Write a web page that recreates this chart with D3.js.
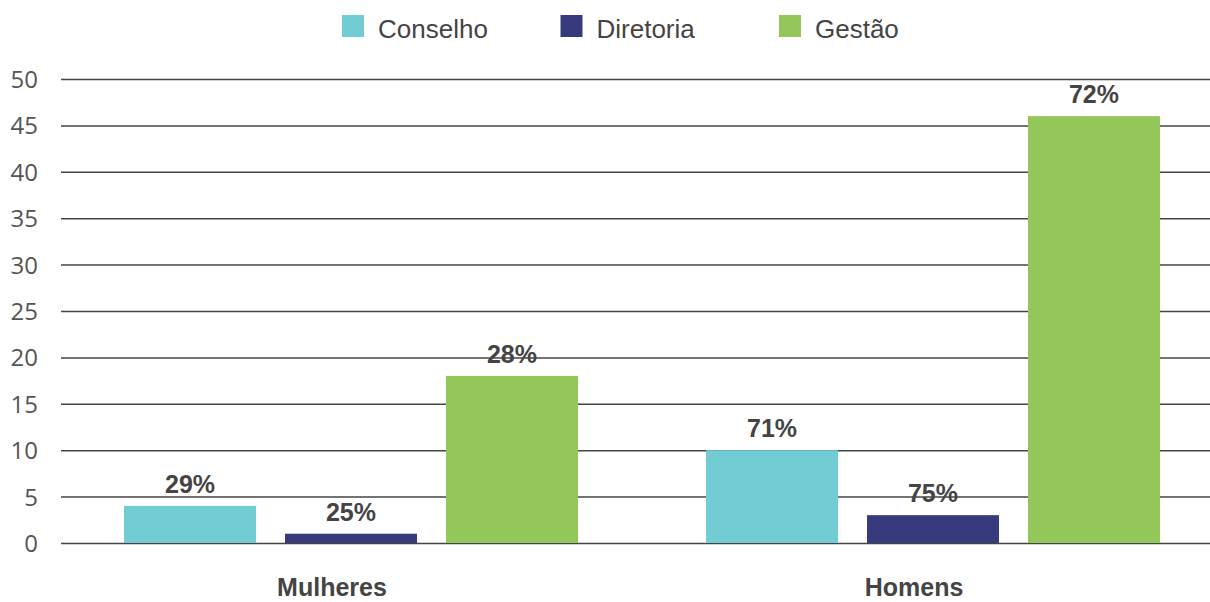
<!DOCTYPE html>
<html>
<head>
<meta charset="utf-8">
<script src="https://cdn.jsdelivr.net/npm/d3@7"></script>
<style>
  html, body { margin: 0; padding: 0; background: #fff; }
  svg { display: block; }
</style>
</head>
<body>
<svg id="chart" width="1210" height="602"></svg>
<script>
const categories = ["Mulheres", "Homens"];
const series = ["Conselho", "Diretoria", "Gestão"];
const conselhoValues = [4, 10];
const diretoriaValues = [1, 3];
const gestaoValues = [18, 46];
const conselhoLabels = ["29%", "71%"];
const diretoriaLabels = ["25%", "75%"];
const gestaoLabels = ["28%", "72%"];
const yTicks = [0, 5, 10, 15, 20, 25, 30, 35, 40, 45, 50];

const colors = { "Conselho": "#72CCD3", "Diretoria": "#383A7E", "Gestão": "#93C759" };
const valuesBySeries = { "Conselho": conselhoValues, "Diretoria": diretoriaValues, "Gestão": gestaoValues };
const labelsBySeries = { "Conselho": conselhoLabels, "Diretoria": diretoriaLabels, "Gestão": gestaoLabels };

const svg = d3.select("#chart");
const gridLeft = 61, gridRight = 1210;

const y = d3.scaleLinear().domain([0, 50]).range([543, 79]);
const x0 = d3.scaleBand().domain(categories).range([60, 1224]).paddingInner(0.22).paddingOuter(0.11);
const x1 = d3.scaleBand().domain(series).range([0, x0.bandwidth()]).paddingInner(0.18).paddingOuter(0);

// Grid lines + tick labels
const yAxis = d3.axisLeft(y).tickValues(yTicks).tickSize(-(gridRight - gridLeft)).tickPadding(23);
const gAxis = svg.append("g").attr("transform", `translate(${gridLeft},0)`).call(yAxis);
gAxis.select(".domain").remove();
gAxis.selectAll(".tick line").attr("stroke", "#444").attr("stroke-width", 1.5);
gAxis.selectAll(".tick text")
  .attr("fill", "#555")
  .style("font-family", "'Open Sans', sans-serif")
  .style("font-size", "24px")
  .attr("dy", "0.35em");

// Bars
const rows = [];
categories.forEach((c, i) => {
  series.forEach(s => rows.push({ cat: c, ser: s, value: valuesBySeries[s][i], label: labelsBySeries[s][i] }));
});

svg.append("g").selectAll("rect").data(rows).join("rect")
  .attr("x", d => x0(d.cat) + x1(d.ser))
  .attr("y", d => y(d.value))
  .attr("width", x1.bandwidth())
  .attr("height", d => y(0) - y(d.value))
  .attr("fill", d => colors[d.ser]);

// Value labels
svg.append("g").selectAll("text").data(rows).join("text")
  .attr("x", d => x0(d.cat) + x1(d.ser) + x1.bandwidth() / 2)
  .attr("y", d => y(d.value) - 13)
  .attr("text-anchor", "middle")
  .attr("fill", "#444")
  .style("font-family", "'Liberation Sans', Arial, sans-serif")
  .style("font-weight", "bold")
  .style("font-size", "25px")
  .text(d => d.label);

// Category labels
svg.append("g").selectAll("text").data(categories).join("text")
  .attr("x", d => x0(d) + x0.bandwidth() / 2 - 19)
  .attr("y", 596)
  .attr("text-anchor", "middle")
  .attr("fill", "#444")
  .style("font-family", "'Liberation Sans', Arial, sans-serif")
  .style("font-weight", "bold")
  .style("font-size", "25px")
  .text(d => d);

// Legend
const legendX = d3.scalePoint().domain(series).range([342, 779]);
const lg = svg.append("g").selectAll("g").data(series).join("g")
  .attr("transform", d => `translate(${legendX(d)},15)`);
lg.append("rect").attr("width", 22).attr("height", 22).attr("fill", d => colors[d]);
lg.append("text")
  .attr("x", 36).attr("y", 23)
  .attr("fill", "#444")
  .style("font-family", "'Liberation Sans', Arial, sans-serif")
  .style("font-size", "26px")
  .text(d => d);
</script>
</body>
</html>
